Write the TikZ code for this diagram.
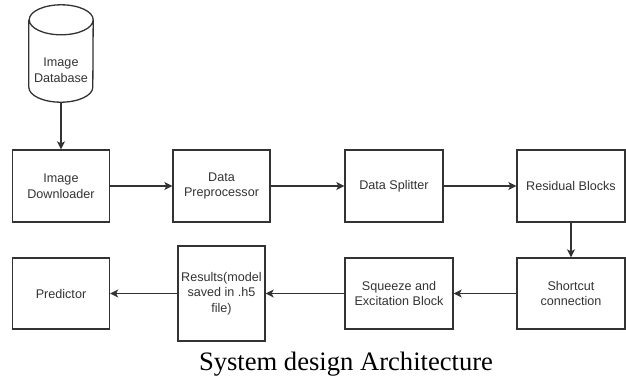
\documentclass[tikz,border=0pt]{standalone}
\usepackage{fontspec}
\setmainfont{Liberation Serif}
\newfontfamily\boxfont{Liberation Sans}
\usepackage{xcolor}
\usetikzlibrary{positioning, arrows.meta}
\definecolor{linegray}{HTML}{333333}

\begin{document}
\begin{tikzpicture}[
    x=1pt, y=-1pt,
    font=\boxfont\fontsize{12.6}{15.5}\selectfont,
    block/.style={rectangle, draw=linegray, line width=1.3pt, text=linegray, align=center, minimum width=97pt, minimum height=72pt, inner sep=1pt},
    dbshape/.style={rectangle, minimum width=64pt, minimum height=97pt, inner sep=0pt},
    dbtext/.style={text=linegray, align=center, inner sep=1pt},
    outline/.style={draw=linegray, line width=1.3pt},
    flow/.style={draw=linegray, line width=1.3pt, -{Stealth[length=8pt, width=8pt, inset=2pt]}}
]
\useasboundingbox (0,0) rectangle (626,378);

% Sumber data (silinder)
\node[dbshape] (imagedb) at (61, 53.5) {};
\node[dbtext] (dblabel) at (61, 70) {Image\\Database};
\draw[outline] ([yshift=-15pt]imagedb.north west) -- ([yshift=15pt]imagedb.south west)
    arc[start angle=180, end angle=360, x radius=32pt, y radius=15pt]
    -- ([yshift=-15pt]imagedb.north east)
    arc[start angle=0, end angle=360, x radius=32pt, y radius=15pt];

% Baris atas
\node[block] (downloader) at (61, 186) {Image\\Downloader};
\node[block] (preprocessor) at (221.5, 186) {Data\\Preprocessor};
\node[block, minimum width=98pt] (splitter) at (394, 186) {Data Splitter};
\node[block, minimum width=108pt] (residual) at (571, 186) {Residual Blocks};

% Baris bawah
\node[block, minimum width=108pt, minimum height=71pt] (shortcut) at (571, 293.5) {Shortcut\\connection};
\node[block, minimum width=108pt, minimum height=71pt] (squeeze) at (399, 293.5) {Squeeze and\\Excitation Block};
\node[block, minimum width=87pt, minimum height=95pt] (results) at (221.5, 293.5) {Results(model\\saved in .h5\\file)};
\node[block, minimum height=71pt] (predictor) at (61, 293.5) {Predictor};

% Judul
\node[anchor=base, font=\rmfamily\fontsize{26.6}{30}\selectfont] (caption) at (346, 370) {System design Architecture};

% Alur
\draw[flow] (imagedb.south) -- (downloader.north);
\draw[flow] (downloader.east) -- (preprocessor.west);
\draw[flow] (preprocessor.east) -- (splitter.west);
\draw[flow] (splitter.east) -- (residual.west);
\draw[flow] (residual.south) -- (shortcut.north);
\draw[flow] (shortcut.west) -- (squeeze.east);
\draw[flow] (squeeze.west) -- (results.east);
\draw[flow] (results.west) -- (predictor.east);

\end{tikzpicture}
\end{document}
